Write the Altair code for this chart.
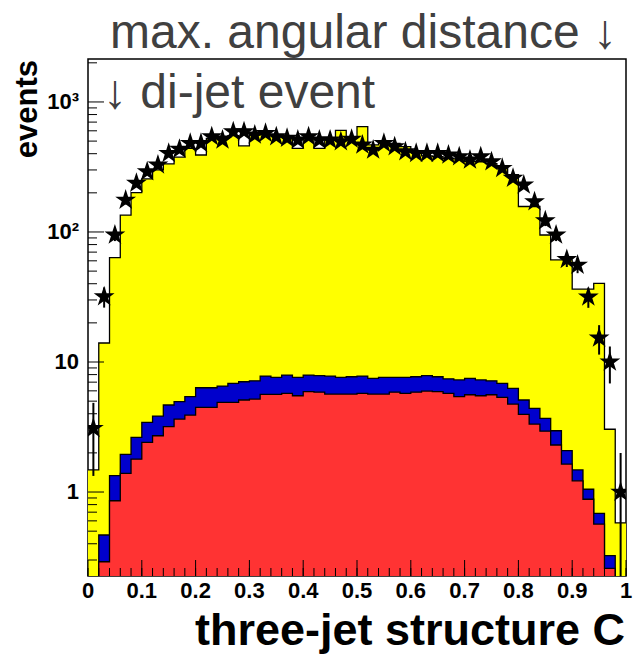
import altair as alt
import pandas as pd

# ---------------- data (50 bins of width 0.02 in C) ----------------
n_bins = 50
bin_width = 0.02

# total MC (yellow), stacked blue (cumulative top) and red
yellow = [1.48, 14.0, 63.4, 135, 201, 256, 300, 334, 376, 440,
          391, 525, 545, 550, 459, 555, 560, 550, 545, 440,
          526, 440, 510, 605, 526, 646, 467, 495, 481, 453,
          415, 385, 380, 369, 365, 350, 347, 335, 316, 276,
          157, 157, 94.8, 61.0, 61.0, 36.3, 36.3, 40.2, 3.04, 0.58]
blue = [0.15, 0.467, 1.335, 1.95, 2.63, 3.43, 3.84, 4.67, 4.95, 5.41,
        6.34, 6.34, 6.53, 6.85, 7.05, 7.17, 7.8, 7.62, 7.94, 7.62,
        7.94, 7.85, 7.8, 7.62, 7.7, 7.8, 7.49, 7.62, 7.62, 7.62,
        7.7, 7.85, 7.7, 7.42, 7.28, 7.49, 7.28, 7.17, 6.85, 6.27,
        5.1, 4.4, 3.69, 2.96, 2.08, 1.48, 1.05, 0.686, 0.324, 0.1]
red = [0.1, 0.291, 0.857, 1.39, 1.79, 2.41, 2.71, 3.18, 3.64, 3.91,
       4.48, 4.48, 4.9, 4.9, 5.1, 5.19, 5.64, 5.64, 5.74, 5.5,
       5.92, 5.86, 5.67, 5.67, 5.67, 5.74, 5.67, 5.67, 5.86, 5.74,
       5.86, 5.98, 5.92, 5.74, 5.41, 5.6, 5.5, 5.6, 5.35, 4.75,
       3.96, 3.33, 2.94, 2.3, 1.64, 1.22, 0.88, 0.567, 0.259, 0.08]
# data points (stars) and their errors
data_vals = [3.09, 31.8, 94.8, 176, 237, 291, 328, 403, 433, 481,
             481, 541, 510, 591, 591, 557, 574, 541, 526, 510,
             541, 510, 510, 495, 518, 467, 427, 481, 453, 415,
             403, 403, 403, 391, 380, 358, 380, 347, 309, 259,
             230, 171, 122, 94.8, 61.6, 55.7, 31.7, 15.3, 10.0, 1.0]
data_errs = [1.76, 5.6, 9.7, 13.3, 15.4, 17.1, 18.1, 20.1, 20.8, 21.9,
             21.9, 23.3, 22.6, 24.3, 24.3, 23.6, 24.0, 23.3, 22.9, 22.6,
             23.3, 22.6, 22.6, 22.2, 22.8, 21.6, 20.7, 21.9, 21.3, 20.4,
             20.1, 20.1, 20.1, 19.8, 19.5, 18.9, 19.5, 18.6, 17.6, 16.1,
             15.2, 13.1, 11.0, 9.7, 7.8, 7.5, 5.6, 3.9, 3.16, 1.0]

x_label_values = [0, 0.1, 0.2, 0.3, 0.4, 0.5, 0.6, 0.7, 0.8, 0.9, 1.0]
x_label_texts = ["0", "0.1", "0.2", "0.3", "0.4", "0.5", "0.6", "0.7", "0.8", "0.9", "1"]
y_label_values = [1, 10, 100, 1000]
y_label_texts = ["1", "10", "10\u00b2", "10\u00b3"]
top_text = ["max. angular distance \u2193"]
second_text = ["\u2193 di-jet event"]
x_title = ["three-jet structure C"]
y_title = ["events"]

# ---------------- layout ----------------
W, H = 538, 517
Y_MIN, Y_MAX = 0.226, 2140
FLOOR = 0.001

lo = [round(i * bin_width, 4) for i in range(n_bins)]
ctr = [round((i + 0.5) * bin_width, 4) for i in range(n_bins)]

step = pd.DataFrame({"x": lo + [1.0], "yellow": yellow + [yellow[-1]],
                     "blue": blue + [blue[-1]], "red": red + [red[-1]],
                     "floor": [FLOOR] * (n_bins + 1)})
pts = pd.DataFrame({"c": ctr, "v": data_vals,
                    "elo": [max(v - e, FLOOR) for v, e in zip(data_vals, data_errs)],
                    "ehi": [v + e for v, e in zip(data_vals, data_errs)]})

y_minor = [m * 10 ** k for k in range(-1, 4) for m in range(2, 10)
           if Y_MIN <= m * 10 ** k <= Y_MAX]
x_minor = [round(i * 0.02, 2) for i in range(51)]

xs = alt.Scale(domain=[0, 1], nice=False, zero=False)
ys = alt.Scale(type="log", domain=[Y_MIN, Y_MAX], nice=False)

FONT = "Liberation Sans"

sb = alt.Chart(step)


def fill_layer(col, color):
    return sb.mark_area(interpolate="step-after", color=color, opacity=1,
                        clip=True).encode(
        x=alt.X("x:Q", scale=xs, axis=None),
        y=alt.Y(f"{col}:Q", scale=ys, axis=None),
        y2="floor:Q",
    )


def outline_layer(col):
    return sb.mark_line(interpolate="step-after", color="black", strokeWidth=1.3,
                        clip=True).encode(
        x=alt.X("x:Q", scale=xs, axis=None),
        y=alt.Y(f"{col}:Q", scale=ys, axis=None),
    )


layers = [
    fill_layer("yellow", "#ffff00"), outline_layer("yellow"),
    fill_layer("blue", "#0000cc"), outline_layer("blue"),
    fill_layer("red", "#ff3333"), outline_layer("red"),
]

# inward ticks
ymaj = alt.Chart(pd.DataFrame({"v": y_label_values})).mark_rule(color="black", strokeWidth=1).encode(
    y=alt.Y("v:Q", scale=ys, axis=None), x=alt.value(0), x2=alt.value(16))
ymin_ = alt.Chart(pd.DataFrame({"v": y_minor})).mark_rule(color="black", strokeWidth=1).encode(
    y=alt.Y("v:Q", scale=ys, axis=None), x=alt.value(0), x2=alt.value(9))
xmaj = alt.Chart(pd.DataFrame({"v": x_label_values})).mark_rule(color="black", strokeWidth=1).encode(
    x=alt.X("v:Q", scale=xs, axis=None), y=alt.value(H), y2=alt.value(H - 16))
xmin_ = alt.Chart(pd.DataFrame({"v": x_minor})).mark_rule(color="black", strokeWidth=1).encode(
    x=alt.X("v:Q", scale=xs, axis=None), y=alt.value(H), y2=alt.value(H - 8))
layers += [ymaj, ymin_, xmaj, xmin_]

# tick labels
ylab = alt.Chart(pd.DataFrame({"v": y_label_values, "t": y_label_texts})).mark_text(
    font=FONT, fontSize=22, fontWeight="bold", color="black", align="right",
    baseline="middle").encode(
    y=alt.Y("v:Q", scale=ys, axis=None), x=alt.value(-9), text="t:N")
xlab = alt.Chart(pd.DataFrame({"v": x_label_values, "t": x_label_texts})).mark_text(
    font=FONT, fontSize=22, fontWeight="bold", color="black", align="center",
    baseline="top").encode(
    x=alt.X("v:Q", scale=xs, axis=None), y=alt.value(H + 5), text="t:N")
layers += [ylab, xlab]

pb = alt.Chart(pts)
errs = pb.mark_rule(color="black", strokeWidth=2, clip=True).encode(
    x=alt.X("c:Q", scale=xs, axis=None),
    y=alt.Y("elo:Q", scale=ys, axis=None), y2="ehi:Q")
STAR = ("M0,-1L0.2245,-0.309L0.951,-0.309L0.363,0.118L0.588,0.809L0,0.382"
        "L-0.588,0.809L-0.363,0.118L-0.951,-0.309L-0.2245,-0.309Z")
stars = pb.mark_point(shape=STAR, filled=True, size=480, color="black",
                      opacity=1, clip=True).encode(
    x=alt.X("c:Q", scale=xs, axis=None),
    y=alt.Y("v:Q", scale=ys, axis=None))
layers += [errs, stars]


def text_layer(txt, x, y, size, weight="normal", color="#404040", align="left",
               angle=0, baseline="alphabetic"):
    kw = dict(font=FONT, fontSize=size, fontWeight=weight, color=color,
              align=align, baseline=baseline)
    if angle:
        kw["angle"] = angle
    return alt.Chart(pd.DataFrame({"t": txt})).mark_text(**kw).encode(
        text="t:N", x=alt.value(x), y=alt.value(y))


layers += [
    text_layer(top_text, 22, -11, 48),
    text_layer(second_text, 15, 49, 48),
    text_layer(x_title, 537, 586, 45, weight="bold", color="black", align="right"),
    text_layer(y_title, -60, 1, 31, weight="bold", color="black", align="right",
               angle=270, baseline="middle"),
]

chart = alt.layer(*layers).properties(
    width=W, height=H,
    autosize=alt.AutoSizeParams(type="none"),
    padding={"left": 88, "top": 59, "right": 11, "bottom": 84},
    background="white",
).configure_view(stroke="black", strokeWidth=1.5)

chart.save("out.html", embed_options={"renderer": "svg", "actions": False})
